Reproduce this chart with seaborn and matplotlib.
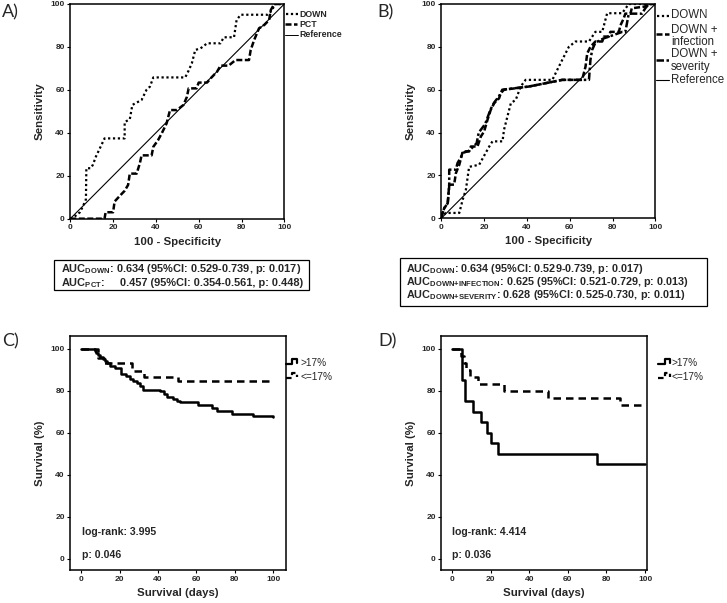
import matplotlib
matplotlib.use("Agg")
import matplotlib.pyplot as plt
import seaborn as sns
import numpy as np
import pandas as pd
from matplotlib.lines import Line2D
from matplotlib.patches import Rectangle

# ---------------- data ----------------
# Panel A ROC (100 - specificity, sensitivity)
a_down_fpr = [0, 2, 4.5, 6, 7.3, 7.5, 9.5, 10.5, 12, 13.3, 16, 25.4, 25.4, 27.8, 29, 33.3, 35.6, 37.2, 38.8, 53.7,
              55.3, 56.8, 58.4, 60.8, 62.3, 63.9, 70.2, 71.7, 76.5, 77.7, 79.6, 92.2, 94.5, 95.3, 100]
a_down_tpr = [0, 1, 3, 6, 9, 23.5, 23.5, 25, 29, 31.7, 37.4, 37.4, 45, 46.3, 53, 55.3, 60, 61.5, 65.8, 65.8,
              69, 72.4, 78.6, 79.3, 80.4, 81.7, 81.7, 84.5, 84.5, 92.5, 95, 95, 97.2, 100, 100]
a_pct_fpr = [0, 16, 16.5, 20, 20.7, 23, 25.4, 27, 27.8, 31, 32.5, 33.3, 38, 38.8, 41, 42.7, 45, 46.6, 49.8, 52.9,
             54.5, 55.3, 59, 60, 63.9, 66, 68.6, 70.2, 74, 77.2, 83.5, 84.3, 85.9, 88.2, 90.6, 92.9, 93.7, 95.3, 100]
a_pct_tpr = [0, 0, 3, 3, 8, 10.5, 13, 15.7, 21, 21, 25.8, 29.5, 29.5, 33.5, 36.6, 39.7, 44.4, 50.6, 50.6, 53,
             56.8, 60.7, 60.7, 63.4, 63.4, 65.8, 68.5, 71.3, 71.3, 73.9, 73.9, 78.6, 83.2, 88.7, 90.2, 92.5, 97.2, 100, 100]

# Panel B ROC
b_down_fpr = [0, 2, 4, 8.4, 10, 11.5, 13, 17.7, 19.9, 22.4, 23.9, 28.6, 29.3, 30.9, 32.5, 34.8, 37.1, 39.4, 51.9,
              54.2, 56.5, 59.6, 62.7, 69, 72, 75.2, 77.5, 84.5, 87.6, 100]
b_down_tpr = [0, 2.5, 2.5, 2.5, 8.7, 13.4, 24, 25, 29, 33.5, 35.9, 35.9, 41.3, 47.5, 53.7, 55.3, 61.5, 64.6, 64.6,
              69.3, 73.9, 80, 82.5, 82.5, 87, 87, 95.7, 95.7, 100, 100]
b_inf_fpr = [0, 0.6, 1.4, 3, 3.7, 6, 6.8, 8.4, 9.2, 10, 13, 13.8, 16.9, 18.5, 20, 21.6, 23.1, 24.7, 27, 27.8,
             29.3, 41, 56.5, 65.8, 67.4, 68.2, 69.7, 72, 75.2, 76, 78.3, 79, 83, 83.7, 85.2, 86, 88.4, 89, 95, 97, 100]
b_inf_tpr = [0, 2.5, 4.8, 7, 15.7, 15.7, 21, 25, 28, 31.2, 31.2, 33.5, 33.5, 38.2, 40.5, 46, 50.6, 53.7, 56, 58.4,
             60, 61.5, 64.6, 64.6, 70.8, 77, 80, 82.5, 82.5, 84.8, 84.8, 87, 87, 90, 93.2, 95.5, 95.5, 98, 98.8, 100, 100]
b_sev_fpr = [0, 0.6, 1.4, 3, 3.7, 3.7, 6.8, 7.6, 9.2, 10, 13, 14.5, 16.5, 17.5, 19, 20.5, 21.6, 23.1, 24.7, 27,
             28.5, 41, 56.5, 65, 69, 69.7, 70.5, 72, 76, 79, 84.6, 86, 87.6, 93.8, 95.3, 97, 100]
b_sev_tpr = [0, 2.5, 4.8, 7, 15, 22.7, 22.7, 25.8, 28.5, 30.5, 31.5, 33, 35, 40, 42, 44, 47, 51, 54, 57,
             60, 61.5, 64.6, 64.6, 64.6, 74, 78.6, 82, 84, 85, 87, 87, 95.5, 95.5, 98, 100, 100]

# Panel C Kaplan-Meier (days, survival %)
c_hi_t = [0, 7, 8, 9, 10, 11.5, 12.5, 13.5, 15, 17.5, 21, 23.5, 25.5, 27, 29, 30.5, 32, 41, 43, 44.5, 48, 50,
          51.5, 61, 68, 70.5, 78.5, 89.5, 100]
c_hi_s = [100, 99, 98, 97, 96.2, 95.2, 94, 93, 92, 91, 88, 87, 85.7, 84.8, 83.5, 82.2, 80.5, 79.7, 78.4, 77.1,
          75.9, 75, 74.6, 73.2, 71.6, 70.5, 68.9, 68, 67.5]
c_lo_t = [0, 9, 12, 26.5, 32.5, 50.5, 100]
c_lo_s = [100, 95.6, 93.4, 89.5, 86.7, 84.4, 84.4]

# Panel D Kaplan-Meier
d_hi_t = [0, 5, 7, 11, 15, 18, 20, 24, 75, 100]
d_hi_s = [100, 85, 75, 70, 65, 60, 55, 50, 45, 45]
d_lo_t = [0, 4.5, 6, 7.5, 9.5, 13.5, 27, 50, 87, 100]
d_lo_s = [100, 96.7, 93.3, 90, 86.7, 83.3, 80, 76.7, 73.3, 73.3]

ticks = [0, 20, 40, 60, 80, 100]

# ---------------- style ----------------
sns.set_style("ticks")
plt.rcParams["font.family"] = ["Liberation Sans", "DejaVu Sans"]
plt.rcParams["mathtext.fontset"] = "custom"
plt.rcParams["mathtext.bf"] = "Liberation Sans:bold"
plt.rcParams["mathtext.rm"] = "Liberation Sans"
plt.rcParams["mathtext.it"] = "Liberation Sans:italic"

W, H = 727, 603
fig = plt.figure(figsize=(W / 100, H / 100), dpi=100)
fig.patch.set_facecolor("white")


def axes_px(l, t, r, b):
    return fig.add_axes([l / W, 1 - b / H, (r - l) / W, (b - t) / H])


def fig_line(xs, ys, **kw):
    fig.add_artist(Line2D([x / W for x in xs], [1 - y / H for y in ys],
                          transform=fig.transFigure, **kw))


def fig_text(x, y, s, **kw):
    fig.text(x / W, 1 - y / H, s, **kw)


def style_axes(ax, xlim, ylim, xlabel, ylabel):
    ax.set_xlim(*xlim)
    ax.set_ylim(*ylim)
    ax.set_xticks(ticks)
    ax.set_yticks(ticks)
    ax.set_xticklabels([str(t) for t in ticks], fontsize=6, fontweight="bold")
    ax.set_yticklabels([str(t) for t in ticks], fontsize=6, fontweight="bold")
    ax.tick_params(length=2.5, width=0.8, pad=1.5, color="black")
    for sp in ax.spines.values():
        sp.set_visible(True)
        sp.set_linewidth(1.1)
        sp.set_color("black")
    ax.set_xlabel(xlabel, fontsize=8.2, fontweight="bold", labelpad=4)
    ax.set_ylabel(ylabel, fontsize=8.2, fontweight="bold", labelpad=4)
    ax.set_facecolor("white")


DOT = (0, (1, 1.2))
DASH = (0, (2.4, 1.0))
DASHDOT = (0, (3, 1, 1, 1))

# ---------------- Panel A ----------------
axA = axes_px(70.3, 4, 284.3, 218.7)
sns.lineplot(x=[0, 100], y=[0, 100], ax=axA, color="black", lw=0.8, sort=False, estimator=None)
sns.lineplot(x=a_down_fpr, y=a_down_tpr, ax=axA, color="black", lw=1.6, linestyle=DOT,
             sort=False, estimator=None)
sns.lineplot(x=a_pct_fpr, y=a_pct_tpr, ax=axA, color="black", lw=1.8, linestyle=DASH,
             sort=False, estimator=None)
style_axes(axA, (0, 100), (0, 100), "100 - Specificity", "Sensitivity")

fig_line([286, 298], [14.3, 14.3], color="black", lw=1.6, linestyle=DOT)
fig_line([285, 297], [24.3, 24.3], color="black", lw=1.8, linestyle=DASH)
fig_line([285, 298], [34.5, 34.5], color="black", lw=0.7)
for yy, s in [(14.3, "DOWN"), (24.3, "PCT"), (34.5, "Reference")]:
    fig_text(299.5, yy, s, fontsize=6.3, fontweight="bold", va="center", ha="left")

# ---------------- Panel B ----------------
axB = axes_px(441.3, 4, 655.3, 218.3)
sns.lineplot(x=[0, 100], y=[0, 100], ax=axB, color="black", lw=0.8, sort=False, estimator=None)
sns.lineplot(x=b_down_fpr, y=b_down_tpr, ax=axB, color="black", lw=1.6, linestyle=DOT,
             sort=False, estimator=None)
sns.lineplot(x=b_inf_fpr, y=b_inf_tpr, ax=axB, color="black", lw=1.8, linestyle=DASH,
             sort=False, estimator=None)
sns.lineplot(x=b_sev_fpr, y=b_sev_tpr, ax=axB, color="black", lw=1.8, linestyle=DASHDOT,
             sort=False, estimator=None)
style_axes(axB, (0, 100), (0, 100), "100 - Specificity", "Sensitivity")

fig_line([657, 669], [15.5, 15.5], color="black", lw=1.6, linestyle=DOT)
fig_line([655.5, 669], [34.3, 34.3], color="black", lw=1.8, linestyle=DASH)
fig_line([655.5, 669], [60, 60], color="black", lw=1.8, linestyle=DASHDOT)
fig_line([655.5, 669], [80.3, 80.3], color="black", lw=0.8)
for yy, s in [(15.5, "DOWN"), (30, "DOWN +"), (41.7, "infection"), (54.3, "DOWN +"),
              (66.7, "severity"), (80.3, "Reference")]:
    fig_text(671, yy, s, fontsize=8.3, va="center", ha="left")

# ---------------- AUC boxes ----------------
fig.add_artist(Rectangle((54 / W, 1 - 290 / H), (309 - 54) / W, (290 - 259.5) / H,
                         transform=fig.transFigure, fill=False, lw=0.9, ec="black"))
fs_box = 7.9
fig_text(61, 269.5, r"$\mathbf{AUC}_{\mathbf{DOWN}}$: 0.634 (95%CI: 0.529-0.739, p: 0.017)",
         fontsize=fs_box, fontweight="bold", va="center", ha="left")
fig_text(61, 283.5, r"$\mathbf{AUC}_{\mathbf{PCT}}$:", fontsize=fs_box, fontweight="bold",
         va="center", ha="left")
fig_text(120, 283.5, "0.457 (95%CI: 0.354-0.561, p: 0.448)", fontsize=fs_box, fontweight="bold",
         va="center", ha="left")

fs_box_b = 7.8
fig.add_artist(Rectangle((400.5 / W, 1 - 305.5 / H), (707.5 - 400.5) / W, (305.5 - 257.5) / H,
                         transform=fig.transFigure, fill=False, lw=0.9, ec="black"))
fig_text(406, 269, r"$\mathbf{AUC}_{\mathbf{DOWN}}$: 0.634 (95%CI: 0.529-0.739, p: 0.017)",
         fontsize=fs_box_b, fontweight="bold", va="center", ha="left")
fig_text(406, 282, r"$\mathbf{AUC}_{\mathbf{DOWN{+}INFECTION}}$: 0.625 (95%CI: 0.521-0.729, p: 0.013)",
         fontsize=fs_box_b, fontweight="bold", va="center", ha="left")
fig_text(406, 295, r"$\mathbf{AUC}_{\mathbf{DOWN{+}SEVERITY}}$: 0.628 (95%CI: 0.525-0.730, p: 0.011)",
         fontsize=fs_box_b, fontweight="bold", va="center", ha="left")

# ---------------- Panel C ----------------
KMDASH = (0, (3, 2))
axC = axes_px(70.3, 335.7, 285.7, 570)
sns.lineplot(x=c_lo_t, y=c_lo_s, ax=axC, color="black", lw=1.8, linestyle=KMDASH,
             drawstyle="steps-post", sort=False, estimator=None)
sns.lineplot(x=c_hi_t, y=c_hi_s, ax=axC, color="black", lw=1.8,
             drawstyle="steps-post", sort=False, estimator=None)
style_axes(axC, (-5.6, 106.4), (-5.4, 106.2), "Survival (days)", "Survival (%)")
fig_text(81.5, 532, "log-rank: 3.995", fontsize=7.6, fontweight="bold", va="center", ha="left")
fig_text(81.5, 555, "p: 0.046", fontsize=7.6, fontweight="bold", va="center", ha="left")

fig_line([285.5, 291.5, 291.5, 296.5, 296.5], [364.3, 364.3, 359.3, 359.3, 362.7], color="black", lw=1.6)
fig_line([285.5, 291.5, 291.5, 296.5, 296.5], [378, 378, 373, 373, 376.5], color="black", lw=1.6,
         linestyle=(0, (2.5, 1.5)))
fig_text(300.5, 363, ">17%", fontsize=7.3, va="center", ha="left")
fig_text(300.5, 377, "<=17%", fontsize=7.3, va="center", ha="left")

# ---------------- Panel D ----------------
axD = axes_px(441.3, 335.7, 647, 570)
sns.lineplot(x=d_lo_t, y=d_lo_s, ax=axD, color="black", lw=1.8, linestyle=KMDASH,
             drawstyle="steps-post", sort=False, estimator=None)
sns.lineplot(x=d_hi_t, y=d_hi_s, ax=axD, color="black", lw=1.8,
             drawstyle="steps-post", sort=False, estimator=None)
style_axes(axD, (-5.5, 101), (-5.4, 106.2), "Survival (days)", "Survival (%)")
fig_text(452, 532, "log-rank: 4.414", fontsize=7.6, fontweight="bold", va="center", ha="left")
fig_text(452, 555, "p: 0.036", fontsize=7.6, fontweight="bold", va="center", ha="left")

fig_line([658, 664.8, 664.8, 670, 670], [364.3, 364.3, 359.3, 359.3, 362.7], color="black", lw=1.6)
fig_line([658, 664.8, 664.8, 670, 670], [378, 378, 373, 373, 376.5], color="black", lw=1.6,
         linestyle=(0, (2.5, 1.5)))
fig_text(672, 363, ">17%", fontsize=7.3, va="center", ha="left")
fig_text(672, 377, "<=17%", fontsize=7.3, va="center", ha="left")

# ---------------- panel letters ----------------
for x, y, s in [(2, 12, "A)"), (377, 12, "B)"), (2, 341, "C)"), (378, 341, "D)")]:
    fig_text(x, y, s, fontsize=13, family=["Lato", "DejaVu Sans"], va="center", ha="left")

fig.savefig("out.png", dpi=100, facecolor="white")
